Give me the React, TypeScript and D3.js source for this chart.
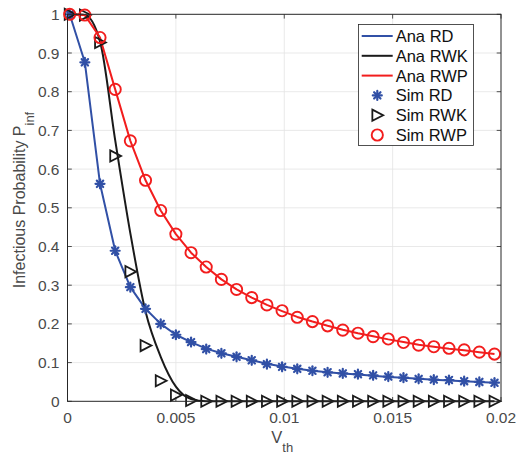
import React from "react";
import * as d3 from "d3";

const xValues = [0.0001, 0.0008, 0.0015, 0.0022, 0.0029, 0.0036, 0.0043, 0.005, 0.0057, 0.0064, 0.0071, 0.0078, 0.0085, 0.0092, 0.0099, 0.0106, 0.0113, 0.012, 0.0127, 0.0134, 0.0141, 0.0148, 0.0155, 0.0162, 0.0169, 0.0176, 0.0183, 0.019, 0.0197];

const anaRD = [1.0, 0.876, 0.562, 0.389, 0.295, 0.239, 0.2, 0.172, 0.153, 0.136, 0.124, 0.115, 0.106, 0.097, 0.09, 0.084, 0.079, 0.075, 0.072, 0.069, 0.066, 0.063, 0.061, 0.058, 0.056, 0.054, 0.052, 0.05, 0.048];
const anaRWK = [1.0, 0.998, 0.93, 0.675, 0.434, 0.232, 0.115, 0.038, 0.006, 0, 0, 0, 0, 0, 0, 0, 0, 0, 0, 0, 0, 0, 0, 0, 0, 0, 0, 0, 0];
const anaRWP = [1.0, 0.998, 0.94, 0.806, 0.673, 0.571, 0.493, 0.432, 0.384, 0.347, 0.315, 0.289, 0.268, 0.249, 0.233, 0.218, 0.206, 0.195, 0.185, 0.176, 0.168, 0.16, 0.153, 0.146, 0.141, 0.136, 0.132, 0.127, 0.122];
const simRD = [1.0, 0.876, 0.562, 0.389, 0.295, 0.239, 0.2, 0.172, 0.153, 0.135, 0.124, 0.115, 0.106, 0.096, 0.089, 0.084, 0.079, 0.075, 0.072, 0.07, 0.067, 0.064, 0.061, 0.058, 0.056, 0.055, 0.052, 0.05, 0.048];
const simRWK = [1.0, 0.998, 0.927, 0.634, 0.335, 0.144, 0.053, 0.016, 0.002, 0, 0, 0, 0, 0, 0, 0, 0, 0, 0, 0, 0, 0, 0, 0, 0, 0, 0, 0, 0];
const simRWP = [1.0, 0.998, 0.94, 0.806, 0.673, 0.571, 0.493, 0.432, 0.384, 0.347, 0.315, 0.289, 0.268, 0.249, 0.234, 0.217, 0.206, 0.195, 0.184, 0.176, 0.167, 0.161, 0.152, 0.145, 0.141, 0.137, 0.133, 0.127, 0.122];

const xTicks = [0, 0.005, 0.01, 0.015, 0.02];
const xTickLabels = ["0", "0.005", "0.01", "0.015", "0.02"];
const yTicks = [0, 0.1, 0.2, 0.3, 0.4, 0.5, 0.6, 0.7, 0.8, 0.9, 1];
const yTickLabels = ["0", "0.1", "0.2", "0.3", "0.4", "0.5", "0.6", "0.7", "0.8", "0.9", "1"];
const legendLabels = ["Ana RD", "Ana RWK", "Ana RWP", "Sim RD", "Sim RWK", "Sim RWP"];

const BLUE = "#3150a6";
const BLACK = "#1a1a1a";
const RED = "#f21d1d";
const AXIS = "#262626";
const TEXT = "#4a4a4a";
const FONT = "'Liberation Sans', Arial, Helvetica, sans-serif";

const W = 517;
const H = 454;
const left = 67.5;
const right = 501;
const top = 14.3;
const bottom = 401.3;

function Star({ x, y, r, color }: { x: number; y: number; r: number; color: string }) {
  const d = r * 0.7071;
  return (
    <g stroke={color} strokeWidth={2.2} strokeLinecap="round">
      <line x1={x - r} y1={y} x2={x + r} y2={y} />
      <line x1={x} y1={y - r} x2={x} y2={y + r} />
      <line x1={x - d} y1={y - d} x2={x + d} y2={y + d} />
      <line x1={x - d} y1={y + d} x2={x + d} y2={y - d} />
    </g>
  );
}

function Tri({ x, y, s, color }: { x: number; y: number; s: number; color: string }) {
  const pts = `${x - s * 0.55},${y - s * 0.62} ${x + s * 0.65},${y} ${x - s * 0.55},${y + s * 0.62}`;
  return <polygon points={pts} fill="none" stroke={color} strokeWidth={1.8} strokeLinejoin="miter" />;
}

export default function App() {
  const x = d3.scaleLinear().domain([0, 0.02]).range([left, right]);
  const y = d3.scaleLinear().domain([0, 1]).range([bottom, top]);
  const line = (vals: number[], smooth: boolean) =>
    d3
      .line<number>()
      .x((_, i) => x(xValues[i]))
      .y((v) => y(v))
      .curve(smooth ? d3.curveMonotoneX : d3.curveLinear)(vals) || "";

  const tl = 4.3;
  const legX = 358.5;
  const legY = 24.5;
  const legW = 115;
  const legH = 121;
  const rowY = (i: number) => 36 + i * 19.8;

  return (
    <svg
      width={W}
      height={H}
      viewBox={`0 0 ${W} ${H}`}
      style={{ position: "absolute", left: 0, top: 0, background: "#fff" }}
      fontFamily={FONT}
    >
      <rect x={0} y={0} width={W} height={H} fill="#fff" />
      {/* grid */}
      <g stroke="#e3e3e3" strokeWidth={0.8}>
        {xTicks.slice(1, -1).map((t) => (
          <line key={"gx" + t} x1={x(t)} x2={x(t)} y1={top} y2={bottom} />
        ))}
        {yTicks.slice(1, -1).map((t) => (
          <line key={"gy" + t} x1={left} x2={right} y1={y(t)} y2={y(t)} />
        ))}
      </g>
      {/* ticks */}
      <g stroke={AXIS} strokeWidth={0.8}>
        {xTicks.map((t) => (
          <g key={"tx" + t}>
            <line x1={x(t)} x2={x(t)} y1={bottom} y2={bottom - tl} />
            <line x1={x(t)} x2={x(t)} y1={top} y2={top + tl} />
          </g>
        ))}
        {yTicks.map((t) => (
          <g key={"ty" + t}>
            <line x1={left} x2={left + tl} y1={y(t)} y2={y(t)} />
            <line x1={right} x2={right - tl} y1={y(t)} y2={y(t)} />
          </g>
        ))}
      </g>
      {/* lines */}
      <g fill="none" strokeWidth={2} strokeLinejoin="round">
        <path d={line(anaRD, false)} stroke={BLUE} />
        <path d={line(anaRWK, true)} stroke={BLACK} />
        <path d={line(anaRWP, false)} stroke={RED} />
      </g>
      {/* markers */}
      {simRD.map((v, i) => (
        <Star key={"s" + i} x={x(xValues[i])} y={y(v)} r={4.5} color={BLUE} />
      ))}
      {simRWK.map((v, i) => (
        <Tri key={"t" + i} x={x(xValues[i])} y={y(v)} s={9} color={BLACK} />
      ))}
      {simRWP.map((v, i) => (
        <circle key={"c" + i} cx={x(xValues[i])} cy={y(v)} r={5.6} fill="none" stroke={RED} strokeWidth={1.9} />
      ))}
      {/* axes box */}
      <rect x={left} y={top} width={right - left} height={bottom - top} fill="none" stroke={AXIS} strokeWidth={1} />
      {/* tick labels */}
      <g fill={TEXT} fontSize={15.5}>
        {xTicks.map((t, i) => (
          <text key={"lx" + t} x={x(t)} y={423.3} textAnchor="middle">
            {xTickLabels[i]}
          </text>
        ))}
        {yTicks.map((t, i) => (
          <text key={"ly" + t} x={59.5} y={y(t) + 5.5} textAnchor="end">
            {yTickLabels[i]}
          </text>
        ))}
      </g>
      {/* axis labels */}
      <text x={(left + right) / 2 - 2} y={443.3} textAnchor="middle" fill={TEXT} fontSize={16.5}>
        V<tspan fontSize={13} dy={9}>th</tspan>
      </text>
      <text
        transform={`translate(25,${200}) rotate(-90)`}
        textAnchor="middle"
        fill={TEXT}
        fontSize={16}
      >
        Infectious Probability P<tspan fontSize={13} dy={9}>inf</tspan>
      </text>
      {/* legend */}
      <rect x={legX} y={legY} width={legW} height={legH} fill="#fff" stroke={AXIS} strokeWidth={0.8} />
      {legendLabels.map((lab, i) => {
        const cy = rowY(i);
        let mark: React.ReactNode = null;
        if (i === 0) mark = <line x1={361.7} x2={392.7} y1={cy} y2={cy} stroke={BLUE} strokeWidth={2} />;
        if (i === 1) mark = <line x1={361.7} x2={392.7} y1={cy} y2={cy} stroke={BLACK} strokeWidth={2} />;
        if (i === 2) mark = <line x1={361.7} x2={392.7} y1={cy} y2={cy} stroke={RED} strokeWidth={2} />;
        if (i === 3) mark = <Star x={377.3} y={cy} r={4.5} color={BLUE} />;
        if (i === 4) mark = <Tri x={377.3} y={cy} s={9} color={BLACK} />;
        if (i === 5) mark = <circle cx={377.3} cy={cy} r={5.6} fill="none" stroke={RED} strokeWidth={1.9} />;
        return (
          <g key={lab}>
            {mark}
            <text x={395.7} y={cy + 5.9} fontSize={16.5} fill="#111">
              {lab}
            </text>
          </g>
        );
      })}
    </svg>
  );
}
